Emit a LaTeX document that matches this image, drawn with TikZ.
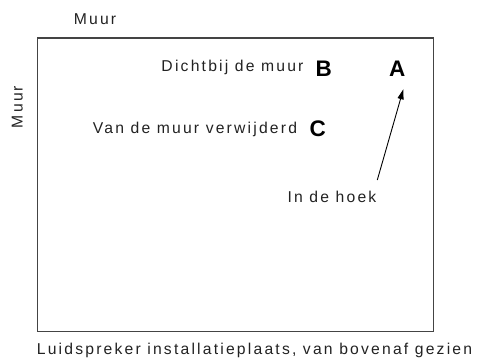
\documentclass[tikz,border=0pt]{standalone}
\usepackage{fontspec}
\setmainfont{Liberation Sans}
\newfontfamily\labfont[LetterSpace=14]{Liberation Sans}
\usetikzlibrary{arrows.meta}
\definecolor{ink}{HTML}{222222}
\definecolor{frame}{HTML}{444444}
\tikzset{
  lab/.style={anchor=base, inner sep=0pt, text=ink, font=\labfont\fontsize{15.7}{18}\selectfont},
  letter/.style={anchor=base west, inner sep=0pt, text=black, font=\fontsize{22.5}{26}\selectfont\bfseries},
  room/.style={draw=frame, line width=1.3pt},
  pointer/.style={draw=black, line width=0.9pt, -{Triangle[length=10pt,width=6pt]}}
}
\begin{document}
\begin{tikzpicture}[x=1pt,y=-1pt]
\useasboundingbox (0,0) rectangle (481,359);
\draw[room] (37.5,38) rectangle (433.3,331.7);
\node[lab] (muurtop) at (95,24.5) {Muur};
\node[lab, rotate=90] (muurside) at (22.7,107) {Muur};
\node[lab] (dicht) at (232.5,71) {Dichtbij de muur};
\node[letter] (B) at (315.5,76) {B};
\node[letter] (A) at (389,76) {A};
\node[lab] (van) at (195,133) {Van de muur verwijderd};
\node[letter] (C) at (309.5,136) {C};
\node[lab] (hoek) at (332,202) {In de hoek};
\node[lab] (caption) at (254.5,354) {Luidspreker installatieplaats, van bovenaf gezien};
\coordinate (tail) at (377.3,180);
\coordinate (tip) at (403.3,89.3);
\draw[pointer] (tail) -- (tip);
\end{tikzpicture}
\end{document}
